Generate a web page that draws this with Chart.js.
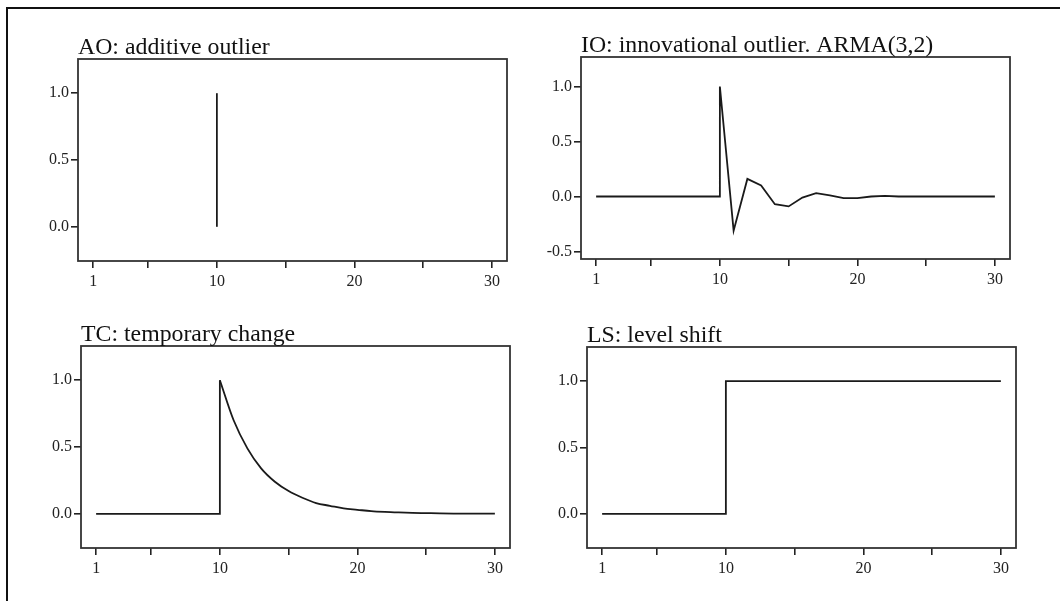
<!DOCTYPE html>
<html>
<head>
<meta charset="utf-8">
<script src="https://cdn.jsdelivr.net/npm/chart.js@4.4.0/dist/chart.umd.min.js"></script>
<style>
    body { margin: 0; background: #fff; }
    #page { position: relative; width: 1060px; height: 601px; overflow: hidden; }
    #frame { position: absolute; left: 6px; top: 7px; width: 1060px; height: 600px;
             border-top: 2px solid #111; border-left: 2px solid #111; }
    canvas { position: absolute; }
</style>
</head>
<body>
<div id="page">
    <div id="frame"></div>
    <canvas id="ao" width="530" height="300" style="left:0px;top:0px"></canvas>
    <canvas id="io" width="530" height="300" style="left:530px;top:0px"></canvas>
    <canvas id="tc" width="530" height="301" style="left:0px;top:300px"></canvas>
    <canvas id="ls" width="530" height="301" style="left:530px;top:300px"></canvas>
</div>
<script>
// time index 1..30, outlier occurs at t = 10
const times = Array.from({ length: 30 }, (_, i) => i + 1);
const outlierTime = 10;

const xTicks = [1, 5, 10, 15, 20, 25, 30];
const xLabels = [1, 10, 20, 30];

const aoValues = [0, 0, 0, 0, 0, 0, 0, 0, 0, 1.0,
    0, 0, 0, 0, 0, 0, 0, 0, 0, 0,
    0, 0, 0, 0, 0, 0, 0, 0, 0, 0];
const ioValues = [0, 0, 0, 0, 0, 0, 0, 0, 0, 1.0,
    -0.31, 0.16, 0.10, -0.07, -0.09, -0.01, 0.03, 0.01, -0.015, -0.015,
    0.0, 0.005, 0, 0, 0, 0, 0, 0, 0, 0];
const tcValues = [0, 0, 0, 0, 0, 0, 0, 0, 0, 1.0,
    0.70, 0.49, 0.34, 0.24, 0.17, 0.12, 0.08, 0.06, 0.04, 0.03,
    0.02, 0.014, 0.01, 0.007, 0.005, 0.003, 0.002, 0.002, 0.001, 0.001];
const lsValues = [0, 0, 0, 0, 0, 0, 0, 0, 0, 1.0,
    1, 1, 1, 1, 1, 1, 1, 1, 1, 1,
    1, 1, 1, 1, 1, 1, 1, 1, 1, 1];

const yTicksPos = [0, 0.5, 1.0];
const yTicksIO = [-0.5, 0, 0.5, 1.0];

const titleAO = 'AO: additive outlier';
const titleIO = 'IO: innovational outlier. ARMA(3,2)';
const titleTC = 'TC: temporary change';
const titleLS = 'LS: level shift';

const serif = '"Liberation Serif", "Times New Roman", serif';
const ink = '#1a1a1a';

// a series drawn as a line, with a vertical jump at the outlier time
function stepLine(values, from, to) {
    const pts = [];
    times.forEach((t, i) => {
        if (t < from || t > to) return;
        if (t === outlierTime && i > 0 && from < outlierTime) {
            pts.push({ x: t, y: values[i - 1] });
        }
        pts.push({ x: t, y: values[i] });
    });
    return pts;
}

// vertical spikes from zero (like R's type = "h")
function spikes(values) {
    const pts = [];
    times.forEach((t, i) => {
        pts.push({ x: t, y: 0 });
        pts.push({ x: t, y: values[i] });
        pts.push({ x: t, y: null });
    });
    return pts;
}

const boxAndTitle = {
    id: 'boxAndTitle',
    afterDraw(chart) {
        const a = chart.chartArea;
        const ctx = chart.ctx;
        ctx.save();
        ctx.strokeStyle = '#333';
        ctx.lineWidth = 1.8;
        ctx.strokeRect(a.left, a.top, a.right - a.left, a.bottom - a.top);
        ctx.fillStyle = '#111';
        ctx.font = '23.8px ' + serif;
        ctx.textBaseline = 'alphabetic';
        ctx.fillText(chart.options.plugins.panelTitle, a.left, a.top - 5);
        ctx.restore();
    }
};

function makePanel(id, pos, box, yRange, yTicks, title, datasets) {
    const tickFont = { family: serif, size: 16 };
    new Chart(document.getElementById(id), {
        type: 'line',
        data: { datasets: datasets },
        options: {
            responsive: false,
            animation: false,
            devicePixelRatio: 1,
            layout: {
                padding: { top: box.top - pos.y, right: pos.x + pos.w - box.right, left: 0, bottom: 0 }
            },
            plugins: {
                legend: { display: false },
                tooltip: { enabled: false },
                panelTitle: title
            },
            scales: {
                x: {
                    type: 'linear',
                    min: -0.1,
                    max: 31.1,
                    afterBuildTicks: s => { s.ticks = xTicks.map(v => ({ value: v })); },
                    afterFit: s => { s.height = pos.y + pos.h - box.bottom; },
                    ticks: {
                        autoSkip: false,
                        maxRotation: 0,
                        padding: 4,
                        color: '#222',
                        font: tickFont,
                        callback: v => xLabels.includes(v) ? String(v) : ''
                    },
                    grid: { drawOnChartArea: false, drawTicks: true, tickLength: 7, color: '#222', lineWidth: 1.6 },
                    border: { display: false }
                },
                y: {
                    min: yRange[0],
                    max: yRange[1],
                    afterBuildTicks: s => { s.ticks = yTicks.map(v => ({ value: v })); },
                    afterFit: s => { s.width = box.left - pos.x; },
                    ticks: {
                        autoSkip: false,
                        padding: 2,
                        color: '#222',
                        font: tickFont,
                        callback: v => v.toFixed(1)
                    },
                    grid: { drawOnChartArea: false, drawTicks: true, tickLength: 7, color: '#222', lineWidth: 1.6 },
                    border: { display: false }
                }
            }
        },
        plugins: [boxAndTitle]
    });
}

function lineSet(points, extra) {
    return Object.assign({
        data: points,
        borderColor: ink,
        borderWidth: 1.8,
        pointRadius: 0,
        fill: false,
        tension: 0,
        spanGaps: false
    }, extra || {});
}

makePanel('ao', { x: 0, y: 0, w: 530, h: 300 },
    { left: 78, right: 507, top: 59, bottom: 261 },
    [-0.256, 1.256], yTicksPos, titleAO,
    [lineSet(spikes(aoValues))]);

makePanel('io', { x: 530, y: 0, w: 530, h: 300 },
    { left: 581, right: 1010, top: 57, bottom: 259 },
    [-0.568, 1.268], yTicksIO, titleIO,
    [lineSet(stepLine(ioValues, 1, 30))]);

makePanel('tc', { x: 0, y: 300, w: 530, h: 301 },
    { left: 81, right: 510, top: 346, bottom: 548 },
    [-0.256, 1.256], yTicksPos, titleTC,
    [lineSet(stepLine(tcValues, 1, outlierTime)),
     lineSet(stepLine(tcValues, outlierTime, 30), { cubicInterpolationMode: 'monotone' })]);

makePanel('ls', { x: 530, y: 300, w: 530, h: 301 },
    { left: 587, right: 1016, top: 347, bottom: 548 },
    [-0.256, 1.256], yTicksPos, titleLS,
    [lineSet(stepLine(lsValues, 1, 30))]);
</script>
</body>
</html>
